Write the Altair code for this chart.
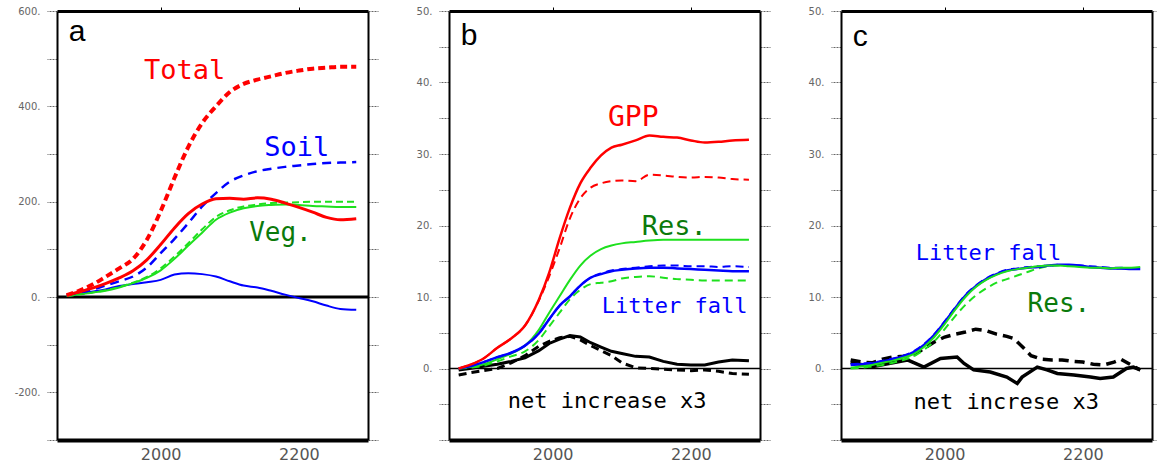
import altair as alt
import pandas as pd

# ---------------- Panel a : carbon storage ----------------
A_YEARS = [1864, 1880, 1900, 1920, 1940, 1960, 1980, 2000, 2020, 2040, 2060,
           2080, 2100, 2120, 2140, 2160, 2180, 2200, 2220, 2240, 2260, 2283]
A_TOTAL_DASH = [4, 12, 25, 42, 60, 80, 120, 180, 250, 315, 365,
                400, 430, 447, 456, 463, 470, 475, 479, 481, 483, 483]
A_TOTAL_SOLID = [4, 10, 18, 28, 40, 55, 78, 110, 145, 175, 195,
                 206, 207, 205, 208, 205, 197, 188, 178, 167, 162, 164]
A_SOIL_DASH = [4, 9, 15, 24, 33, 43, 62, 92, 122, 155, 190,
               218, 242, 255, 264, 269, 273, 276, 279, 281, 282, 283]
A_VEG_SOLID = [2, 5, 9, 13, 20, 29, 40, 56, 80, 108, 135,
               162, 177, 186, 191, 193, 194, 193, 191, 190, 189, 189]
A_VEG_DASH = [2, 5, 9, 14, 21, 30, 42, 60, 85, 113, 142,
              168, 182, 190, 194, 197, 198, 199, 200, 200, 200, 200]
A_SOIL_SOLID = [2, 6, 11, 16, 23, 27, 31, 36, 47, 50, 48,
                43, 33, 24, 20, 13, 5, -2, -9, -18, -25, -27]

# ---------------- Panel b : fluxes ----------------
B_YEARS = [1864, 1880, 1900, 1920, 1940, 1960, 1980, 1995, 2010, 2025, 2040, 2055,
           2070, 2085, 2100, 2120, 2140, 2160, 2180, 2200, 2220, 2240, 2260, 2284]
B_GPP_SOLID = [0, 0.5, 1.4, 2.9, 4.2, 6.0, 9.6, 13.4, 18.2, 22.5, 25.9, 28.1,
               29.8, 30.9, 31.3, 31.9, 32.6, 32.4, 32.3, 31.9, 31.6, 31.7, 31.9, 32.0]
B_GPP_DASH = [0, 0.5, 1.4, 2.9, 4.2, 6.0, 9.5, 12.9, 16.8, 21.0, 23.8, 25.3,
              25.9, 26.2, 26.3, 26.2, 27.1, 27.0, 26.8, 26.7, 26.8, 26.7, 26.5, 26.4]
B_RES_SOLID = [0, 0.2, 0.6, 1.3, 2.1, 3.2, 5.4, 7.8, 10.1, 12.4, 14.4, 15.8,
               16.7, 17.2, 17.5, 17.7, 17.9, 18.0, 18.0, 18.0, 18.0, 18.0, 18.0, 18.0]
B_RES_DASH = [0, 0.1, 0.4, 1.0, 1.7, 2.4, 4.0, 5.9, 7.8, 9.7, 11.0, 11.8,
              12.0, 12.2, 12.6, 12.8, 12.9, 12.7, 12.5, 12.4, 12.3, 12.3, 12.3, 12.3]
B_LIT_SOLID = [0, 0.3, 0.9, 1.6, 2.2, 3.2, 4.9, 6.9, 8.8, 10.1, 11.6, 12.7,
               13.2, 13.6, 13.8, 14.0, 14.1, 14.1, 14.0, 13.9, 13.8, 13.7, 13.6, 13.6]
B_LIT_DASH = [0, 0.3, 0.9, 1.6, 2.2, 3.2, 4.9, 6.9, 8.8, 10.1, 11.6, 12.7,
              13.3, 13.7, 13.9, 14.1, 14.3, 14.4, 14.4, 14.3, 14.3, 14.2, 14.3, 14.2]
B_NET_SOLID = [-0.2, 0, 0.3, 0.6, 1.0, 1.5, 2.5, 3.5, 4.1, 4.6, 4.4, 3.6,
               3.0, 2.4, 2.1, 1.7, 1.6, 1.0, 0.6, 0.5, 0.5, 0.9, 1.2, 1.1]
B_NET_DASH = [-0.9, -0.6, -0.3, 0, 0.8, 1.8, 3.1, 3.8, 4.3, 4.5, 4.0, 3.2,
              2.5, 1.8, 0.8, 0.1, 0, -0.1, -0.2, -0.3, -0.2, -0.4, -0.7, -0.8]

# ---------------- Panel c : fluxes (second case) ----------------
C_YEARS = [1864, 1880, 1895, 1910, 1925, 1940, 1955, 1970, 1985, 2000, 2015, 2030, 2045, 2060,
           2075, 2090, 2105, 2120, 2135, 2150, 2165, 2180, 2195, 2210, 2225, 2240, 2255, 2270, 2283]
C_LIT_SOLID = [0.5, 0.6, 0.7, 1.0, 1.3, 1.7, 2.3, 3.3, 4.7, 6.5, 8.4, 10.2, 11.5, 12.5,
               13.2, 13.7, 13.9, 14.1, 14.2, 14.4, 14.5, 14.5, 14.4, 14.2, 14.1, 14.0, 14.0, 13.9, 13.9]
C_LIT_DASH = [0.6, 0.7, 0.8, 1.1, 1.4, 1.8, 2.4, 3.4, 4.8, 6.6, 8.5, 10.3, 11.6, 12.6,
              13.3, 13.8, 14.0, 14.2, 14.3, 14.4, 14.5, 14.4, 14.4, 14.3, 14.2, 14.1, 14.1, 14.0, 14.0]
C_RES_SOLID = [0.1, 0.3, 0.5, 0.8, 1.1, 1.5, 2.0, 3.0, 4.4, 6.2, 8.2, 10.0, 11.4, 12.4,
               13.1, 13.6, 13.9, 14.1, 14.3, 14.4, 14.4, 14.3, 14.2, 14.1, 14.1, 14.0, 14.1, 14.1, 14.2]
C_RES_DASH = [0, 0.1, 0.3, 0.5, 0.8, 1.2, 1.7, 2.6, 3.8, 5.5, 7.3, 8.9, 10.2, 11.2,
              12.0, 12.5, 13.0, 13.5, 14.0, 14.3, 14.4, 14.4, 14.3, 14.2, 14.1, 14.0, 14.0, 14.0, 14.0]
C_NET_DASH_YEARS = [1864, 1880, 1895, 1910, 1925, 1940, 1955, 1970, 1985, 2000, 2015, 2030, 2045, 2060, 2075,
                    2090, 2100, 2115, 2125, 2140, 2155, 2170, 2185, 2200, 2215, 2230, 2245, 2255, 2268, 2283]
C_NET_DASH = [1.2, 0.9, 0.8, 1.3, 1.6, 1.7, 1.9, 2.8, 3.7, 4.4, 4.8, 5.1, 5.5, 5.3, 4.8,
              4.5, 4.2, 2.8, 1.8, 1.3, 1.2, 1.2, 1.0, 0.9, 0.6, 0.5, 0.9, 1.3, 0.6, -0.2]
C_NET_SOLID_YEARS = [1864, 1893, 1946, 1970, 1994, 2018, 2028, 2042, 2066, 2090, 2105,
                     2112, 2134, 2148, 2163, 2187, 2211, 2225, 2244, 2263, 2273, 2283]
C_NET_SOLID = [0.9, 0.2, 1.2, 0.2, 1.4, 1.6, 0.7, -0.2, -0.5, -1.2, -2.1,
               -1.2, 0.2, -0.2, -0.7, -0.9, -1.2, -1.4, -1.2, 0, 0.2, -0.2]

# ---------------- labels ----------------
A_LABELS = ["Total", "Soil", "Veg."]
A_LABEL_X = [1976, 2150, 2128]
A_LABEL_Y = [458, 296, 118]
B_LABELS = ["GPP", "Res.", "Litter fall", "net increase x3"]
B_LABEL_X = [2080, 2129, 2071, 1935]
B_LABEL_Y = [33.9, 18.7, 7.7, -5.5]
C_LABELS = ["Litter fall", "Res.", "net increse x3"]
C_LABEL_X = [1958, 2120, 1955]
C_LABEL_Y = [15.2, 7.9, -5.6]

RED, BLUE, GREEN, DGREEN, BLACK = "#ff0000", "#0000ff", "#1ee01e", "#0b7a0b", "#000000"

X_DOMAIN = [1850, 2300]
W, H = 311, 429


def make_panel(letter, letter_y, series, ydom, yvals, label_every, labels, lx, ly,
               lcolors, lsizes, zero_w, right_tick):
    xs = alt.Scale(domain=X_DOMAIN, nice=False, zero=False)
    ys = alt.Scale(domain=ydom, nice=False, zero=False)
    layers = []
    # zero line carrying left / bottom axes
    zdf = pd.DataFrame({"x0": [X_DOMAIN[0]], "x1": [X_DOMAIN[1]], "v": [0]})
    left_axis = alt.Axis(
        orient="left", values=yvals, title=None, grid=False,
        labelExpr=f"datum.value % {label_every} == 0 && datum.value > {ydom[0]} ? datum.value + '.' : ''",
        labelFontSize=10, labelColor="#666666", labelFont="DejaVu Sans", labelPadding=7,
        tickSize=10, tickColor="#666666", tickDash=[2, 1], tickWidth=1,
        domainColor=BLACK, domainWidth=2, labelFlush=False, labelOverlap=False)
    bottom_axis = alt.Axis(
        orient="bottom", values=[2000, 2200], format="d", title=None, grid=False,
        labelFontSize=16, labelColor="#555555", labelFont="DejaVu Sans", labelPadding=6,
        tickSize=0, domainColor=BLACK, domainWidth=4)
    layers.append(
        alt.Chart(zdf).mark_rule(color=BLACK, strokeWidth=zero_w).encode(
            x=alt.X("x0:Q", scale=xs, axis=bottom_axis),
            x2="x1:Q",
            y=alt.Y("v:Q", scale=ys, axis=left_axis),
        )
    )
    for years, vals, color, dash, width, interp in series:
        df = pd.DataFrame({"year": years, "value": vals})
        kw = dict(color=color, strokeWidth=width, interpolate=interp)
        if dash:
            kw["strokeDash"] = dash
        layers.append(
            alt.Chart(df).mark_line(**kw).encode(
                x=alt.X("year:Q", scale=xs, axis=None),
                y=alt.Y("value:Q", scale=ys, axis=None),
            )
        )
    # text labels carrying top / right axes
    tdf = pd.DataFrame({"year": lx, "value": ly, "text": labels,
                        "color": lcolors, "size": lsizes})
    right_axis = alt.Axis(orient="right", values=yvals, labels=False, title=None, grid=False,
                          tickSize=right_tick, tickColor="#666666", tickDash=[2, 1],
                          domainColor=BLACK, domainWidth=2)
    top_axis = alt.Axis(orient="top", values=[2000, 2200], labels=False, title=None, grid=False,
                        tickSize=4, tickColor=BLACK, domainColor=BLACK, domainWidth=3)
    layers.append(
        alt.Chart(tdf).mark_text(align="left", baseline="alphabetic",
                                 font="DejaVu Sans Mono").encode(
            x=alt.X("year:Q", scale=xs, axis=top_axis),
            y=alt.Y("value:Q", scale=ys, axis=right_axis),
            text="text:N",
            color=alt.Color("color:N", scale=None),
            size=alt.Size("size:Q", scale=None),
        )
    )
    ldf = pd.DataFrame({"year": [1867], "value": [letter_y], "text": [letter]})
    layers.append(
        alt.Chart(ldf).mark_text(align="left", baseline="alphabetic", font="Liberation Sans",
                                 fontSize=30, color=BLACK).encode(
            x=alt.X("year:Q", scale=xs, axis=None),
            y=alt.Y("value:Q", scale=ys, axis=None),
            text="text:N",
        )
    )
    return alt.layer(*layers).resolve_axis(x="independent", y="independent").properties(
        width=W, height=H)


A_TICKS = list(range(-300, 601, 100))
BC_TICKS = list(range(-10, 51, 5))
M, L = "monotone", "linear"

pa = make_panel(
    "a", 537,
    [
        (A_YEARS, A_SOIL_SOLID, BLUE, None, 2, M),
        (A_YEARS, A_VEG_DASH, GREEN, [7, 4], 2, M),
        (A_YEARS, A_VEG_SOLID, GREEN, None, 2, M),
        (A_YEARS, A_SOIL_DASH, BLUE, [9, 6], 2.5, M),
        (A_YEARS, A_TOTAL_SOLID, RED, None, 3, M),
        (A_YEARS, A_TOTAL_DASH, RED, [7, 4], 4, M),
    ],
    [-300, 600], A_TICKS, 200, A_LABELS, A_LABEL_X, A_LABEL_Y,
    [RED, BLUE, DGREEN], [27, 27, 26], 3, 10,
)

pb = make_panel(
    "b", 45.2,
    [
        (B_YEARS, B_NET_DASH, BLACK, [8, 5], 3, L),
        (B_YEARS, B_NET_SOLID, BLACK, None, 3, L),
        (B_YEARS, B_RES_DASH, GREEN, [8, 5], 2, M),
        (B_YEARS, B_LIT_DASH, BLUE, [8, 5], 2, M),
        (B_YEARS, B_RES_SOLID, GREEN, None, 2, M),
        (B_YEARS, B_LIT_SOLID, BLUE, None, 2.5, M),
        (B_YEARS, B_GPP_DASH, RED, [8, 5], 2, M),
        (B_YEARS, B_GPP_SOLID, RED, None, 2.5, M),
    ],
    [-10, 50], BC_TICKS, 10, B_LABELS, B_LABEL_X, B_LABEL_Y,
    [RED, DGREEN, BLUE, BLACK], [28, 27, 22, 22], 1.5, 10,
)

pc = make_panel(
    "c", 45.1,
    [
        (C_NET_DASH_YEARS, C_NET_DASH, BLACK, [10, 6], 3.5, L),
        (C_NET_SOLID_YEARS, C_NET_SOLID, BLACK, None, 3.5, L),
        (C_YEARS, C_RES_DASH, GREEN, [8, 5], 2, M),
        (C_YEARS, C_LIT_DASH, BLUE, [8, 5], 2, M),
        (C_YEARS, C_LIT_SOLID, BLUE, None, 2.5, M),
        (C_YEARS, C_RES_SOLID, GREEN, None, 2, M),
    ],
    [-10, 50], BC_TICKS, 10, C_LABELS, C_LABEL_X, C_LABEL_Y,
    [BLUE, DGREEN, BLACK], [22, 26, 22], 1.5, 4,
)

chart = alt.hconcat(pa, pb, pc, spacing=81, bounds="flush").properties(
    padding={"left": 14, "top": 6, "right": 0, "bottom": 0},
    background="white",
).configure_view(stroke=None)

chart.save("out.html", embed_options={"renderer": "svg", "actions": False})
